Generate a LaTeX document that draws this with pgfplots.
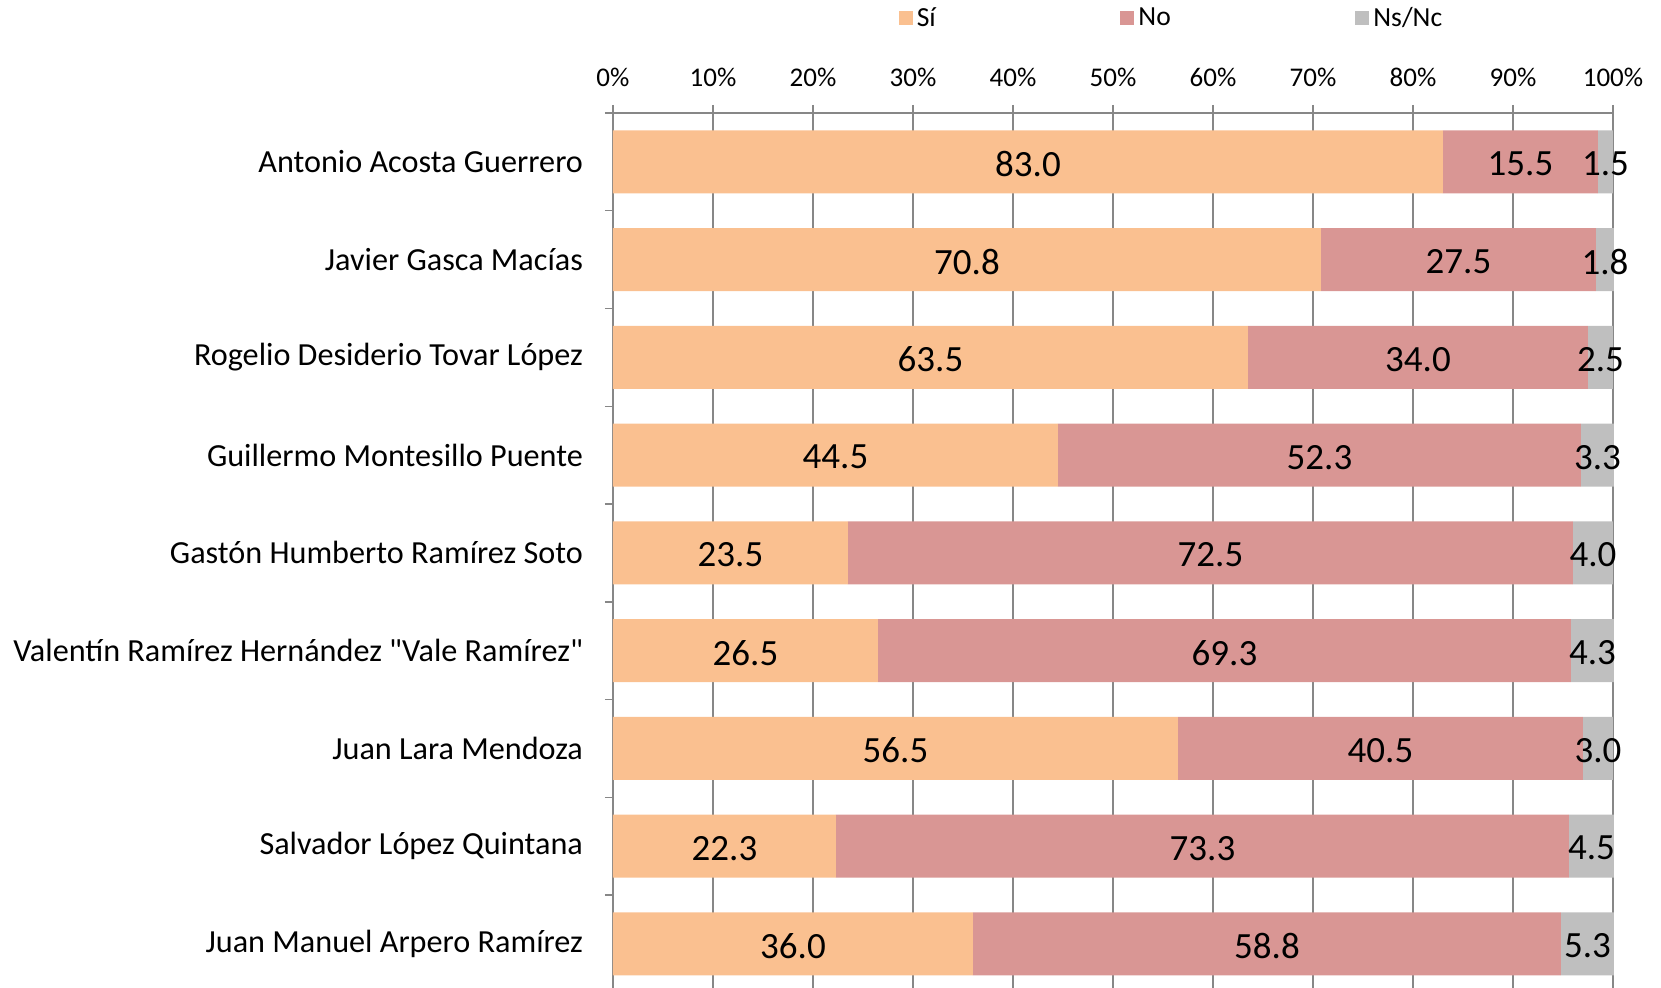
\documentclass[border=0pt]{standalone}
\usepackage{pgfplots}
\pgfplotsset{compat=1.18}
\usepackage{pgfplotstable}
\usepackage{fontspec}
\setmainfont{Carlito}
\definecolor{csi}{HTML}{FAC090}
\definecolor{cno}{HTML}{D99694}
\definecolor{cns}{HTML}{BFBFBF}
\definecolor{gridc}{HTML}{878787}
\pgfplotstableread{
idx si no ns
8 83.0 15.5 1.5
7 70.8 27.5 1.8
6 63.5 34.0 2.5
5 44.5 52.3 3.3
4 23.5 72.5 4.0
3 26.5 69.3 4.3
2 56.5 40.5 3.0
1 22.3 73.3 4.5
0 36.0 58.8 5.3
}\data
\begin{document}
\begin{tikzpicture}
\path[use as bounding box] (-306.5pt,0) rectangle (524pt,494pt);
\begin{axis}[
  at={(0,0)}, anchor=south west,
  scale only axis, width=500.75pt, height=437.5pt,
  xbar stacked, bar width=31.5pt,
  xmin=0, xmax=100.15, ymin=-0.45, ymax=8.5,
  axis x line*=top, axis y line*=left,
  axis line style={gridc, line width=0.7pt},
  xtick={0,10,...,100},
  xticklabels={0\%,10\%,20\%,30\%,40\%,50\%,60\%,70\%,80\%,90\%,100\%},
  xticklabel style={font=\fontsize{13.5}{15}\selectfont, yshift=5.5pt},
  ytick={0,...,8},
  yticklabels={Juan Manuel Arpero Ramírez, Salvador López Quintana, Juan Lara Mendoza, Valentín Ramírez Hernández \textquotedbl Vale Ramírez\textquotedbl, Gastón Humberto Ramírez Soto, Guillermo Montesillo Puente, Rogelio Desiderio Tovar López, Javier Gasca Macías, Antonio Acosta Guerrero},
  yticklabel style={font=\fontsize{16.1}{18}\selectfont, xshift=-7.5pt},
  minor ytick={-0.5,0.5,...,8.5},
  major y tick style={draw=none},
  minor y tick style={draw=gridc, line width=0.7pt},
  x tick style={draw=gridc, line width=0.7pt},
  tick align=outside,
  major tick length=4pt, minor tick length=4pt,
  xmajorgrids, grid style={gridc, line width=0.7pt},
  point meta=explicit symbolic,
  nodes near coords,
  every node near coord/.append style={anchor=center, font=\fontsize{18.5}{21}\selectfont, text=black, yshift=-1pt},
  legend columns=3,
  legend style={at={(axis description cs:0.285,1.108)}, anchor=west, draw=none, fill=none, inner sep=0pt,
    font=\fontsize{13.8}{15}\selectfont,
    nodes={inner sep=2pt},
    /tikz/every even column/.append style={column sep=90.3pt}},
  sq legend/.style={legend image code/.code={\fill[##1, draw=none] (0pt,-3.5pt) rectangle (7pt,3.5pt);}},
]
\addplot[fill=csi, draw=none, sq legend] table[x=si, y=idx, meta=si] {\data};
\addplot[fill=cno, draw=none, sq legend] table[x=no, y=idx, meta=no] {\data};
\addplot[fill=cns, draw=none, sq legend] table[x=ns, y=idx, meta=ns] {\data};
\legend{Sí, No, Ns/Nc}
\end{axis}
\end{tikzpicture}
\end{document}
